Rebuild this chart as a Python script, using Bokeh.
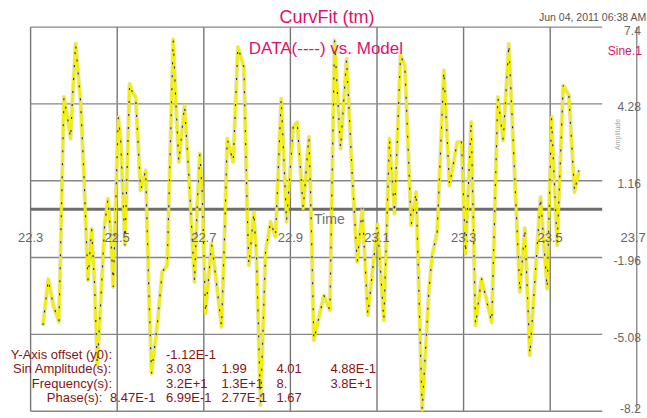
import math
from bokeh.plotting import figure
from bokeh.models import Range1d
from bokeh.core.properties import value
from bokeh.embed import file_html
from bokeh.resources import INLINE

# ---------------- data ----------------
title_text = "CurvFit (tm)"
subtitle_text = "DATA(----) vs. Model"
series_name = "Sine.1"
timestamp = "Jun 04, 2011 06:38 AM"
x_axis_title = "Time"
y_axis_title = "Amplitude"

x_ticks = [22.3, 22.5, 22.7, 22.9, 23.1, 23.3, 23.5, 23.7]
x_tick_labels = ["22.3", "22.5", "22.7", "22.9", "23.1", "23.3", "23.5", "23.7"]
y_ticks = [7.4, 4.28, 1.16, -1.96, -5.08, -8.2]
y_tick_labels = ["7.4", "4.28", "1.16", "-1.96", "-5.08", "-8.2"]

time = [22.3285, 22.3408, 22.3524, 22.3655, 22.3770, 22.3862, 22.3924, 22.3963,
        22.4040, 22.4155, 22.4232, 22.4324, 22.4409, 22.4478, 22.4540, 22.4632,
        22.4709, 22.4786, 22.4848, 22.4910, 22.5025, 22.5079, 22.5179, 22.5287,
        22.5349, 22.5426, 22.5541, 22.5657, 22.5731, 22.5793, 22.5924, 22.6039,
        22.6155, 22.6293, 22.6362, 22.6424, 22.6555, 22.6655, 22.6786, 22.6848,
        22.6909, 22.6963, 22.7040, 22.7179, 22.7271, 22.7410, 22.7487, 22.7541,
        22.7679, 22.7787, 22.7926, 22.8003, 22.8041, 22.8157, 22.8218, 22.8311,
        22.8426, 22.8541, 22.8657, 22.8787, 22.8849, 22.8911, 22.9065, 22.9157,
        22.9296, 22.9427, 22.9465, 22.9542, 22.9773, 22.9912, 23.0019, 23.0158,
        23.0297, 23.0428, 23.0543, 23.0659, 23.0789, 23.1010, 23.1158, 23.1288,
        23.1404, 23.1543, 23.1643, 23.1789, 23.1904, 23.2043, 23.2197, 23.2274,
        23.2390, 23.2544, 23.2674, 23.2852, 23.2952, 23.3044, 23.3175, 23.3275,
        23.3414, 23.3650, 23.3790, 23.3914, 23.4045, 23.4299, 23.4414, 23.4530,
        23.4776, 23.4930, 23.5030, 23.5161, 23.5300, 23.5431, 23.5562, 23.5662]
amplitude = [-4.71, -2.84, -3.90, -4.57, 4.56, 3.61, 2.87, 4.35,
             6.72, 4.35, 1.38, -2.88, -0.79, -3.08, -6.33, -3.35,
             -0.65, 0.43, -0.92, -3.15, 3.75, 2.87, -1.46, 5.10,
             4.76, 4.56, 0.77, 1.58, -3.35, -6.67, -4.71, -2.54,
             -2.27, 6.90, 4.08, 1.92, 4.22, 1.38, -2.95, 0.16,
             2.26, 0.70, -4.23, -1.39, -2.68, -4.77, -0.65, 2.87,
             1.92, 6.59, 5.77, -0.11, -2.27, -0.11, -2.00, -7.95,
             -1.73, -0.51, -1.12, 4.49, 2.06, -0.51, 3.34, 3.54,
             0.03, 2.94, 0.70, -5.32, -3.49, -4.10, 6.86, 2.46,
             6.11, 1.38, -2.14, 0.05, -4.30, -0.60, -4.50, 2.87,
             -0.18, 6.25, 5.84, -0.65, 0.70, -8.16, -3.35, -1.87,
             -0.92, 5.64, 0.97, 2.73, 2.73, -1.80, 3.54, -4.71,
             -2.81, -4.60, 4.56, 2.80, 6.72, -3.35, -0.76, -5.92,
             0.50, -3.22, 3.75, -1.46, 5.03, 4.63, 0.70, 1.58]

param_labels = ["Y-Axis offset (y0):", "Sin Amplitude(s):", "Frequency(s):", "Phase(s):"]
offset_values = ["-1.12E-1"]
amplitude_values = ["3.03", "1.99", "4.01", "4.88E-1"]
frequency_values = ["3.2E+1", "1.3E+1", "8.", "3.8E+1"]
phase_values = ["8.47E-1", "6.99E-1", "2.77E-1", "1.67"]

# ---------------- layout / style ----------------
FONT = value("Liberation Sans")
PINK = "#e0116b"
DARKRED = "#841418"
GRID = "#858585"
grid_end = 23.62

p = figure(width=647, height=418,
           x_range=Range1d(22.230485, 23.724711), y_range=Range1d(-8.49636, 8.48033),
           x_axis_location=None, y_axis_location=None,
           toolbar_location=None, output_backend="svg",
           min_border=0, min_border_left=0, min_border_right=0,
           min_border_top=0, min_border_bottom=0,
           outline_line_color=None,
           background_fill_color="white", border_fill_color="white")
for g in p.grid:
    g.visible = False

# vertical grid lines
p.segment(x0=x_ticks[:-1], y0=[y_ticks[-1]] * (len(x_ticks) - 1),
          x1=x_ticks[:-1], y1=[y_ticks[0]] * (len(x_ticks) - 1),
          line_color="#777777", line_width=1.4)
# right axis line
p.segment(x0=[x_ticks[-1]], y0=[y_ticks[-1]], x1=[x_ticks[-1]], y1=[y_ticks[0]],
          line_color="#6a6a6a", line_width=1.1)
# horizontal grid lines
p.segment(x0=[x_ticks[0]] * len(y_ticks), y0=y_ticks,
          x1=[grid_end] * len(y_ticks), y1=y_ticks,
          line_color=GRID, line_width=1.4)
# zero (time) axis
p.segment(x0=[x_ticks[0]], y0=[0], x1=[grid_end], y1=[0],
          line_color="#6c6c6c", line_width=3)

# data / model line
p.line(time, amplitude, line_color="#c4c49c", line_width=4.2, line_alpha=0.45, line_join="round")
p.line(time, amplitude, line_color="#f2f000", line_width=2.6, line_join="round")
p.line(time, amplitude, line_color="#1c1ca0", line_width=1.1, line_dash="2 11")

# x tick labels along the zero line
p.text(x=x_ticks[:-1], y=[0] * (len(x_ticks) - 1), text=x_tick_labels[:-1],
       text_font=FONT, text_font_size="13px", text_color="#666666",
       text_align="center", text_baseline="middle", y_offset=28)
p.text(x=[x_ticks[-1]], y=[0], text=[x_tick_labels[-1]],
       text_font=FONT, text_font_size="13px", text_color="#666666",
       text_align="right", text_baseline="middle", x_offset=9, y_offset=28)
p.text(x=[22.99], y=[0], text=[x_axis_title],
       text_font=FONT, text_font_size="14px", text_color="#707070",
       text_align="center", text_baseline="middle", y_offset=10)

# y tick labels at the right
p.text(x=[x_ticks[-1]] * (len(y_ticks) - 1), y=y_ticks[:-1], text=y_tick_labels[:-1],
       text_font=FONT, text_font_size="12px", text_color="#666666",
       text_align="right", text_baseline="middle", x_offset=4, y_offset=3)
p.text(x=[x_ticks[-1]], y=[y_ticks[-1]], text=[y_tick_labels[-1]],
       text_font=FONT, text_font_size="12px", text_color="#666666",
       text_align="right", text_baseline="middle", x_offset=4, y_offset=-3)
p.text(x=[23.6555], y=[3.04], text=[y_axis_title], angle=math.pi / 2,
       text_font=FONT, text_font_size="7px", text_color="#a8a8a8",
       text_align="center", text_baseline="middle")

# titles
p.text(x=[22.9845], y=[7.79], text=[title_text],
       text_font=FONT, text_font_size="18px", text_color=PINK,
       text_align="center", text_baseline="middle")
p.text(x=[22.982], y=[6.55], text=[subtitle_text],
       text_font=FONT, text_font_size="17px", text_color=PINK,
       text_align="center", text_baseline="middle")
p.text(x=[x_ticks[-1]], y=[6.41], text=[series_name],
       text_font=FONT, text_font_size="12px", text_color=PINK,
       text_align="right", text_baseline="middle", x_offset=5)
p.text(x=[x_ticks[-1]], y=[7.80], text=[timestamp],
       text_font=FONT, text_font_size="10.5px", text_color="#555555",
       text_align="right", text_baseline="middle", x_offset=10)

# parameter block
row_y = [-5.88, -6.47, -7.06, -7.65]
label_right = [22.488, 22.488, 22.488, 22.466]
col_x = [22.4834, 22.6127, 22.7409, 22.8679, 22.9926]
p.text(x=label_right, y=row_y, text=param_labels,
       text_font=FONT, text_font_size="13px", text_color=DARKRED,
       text_align="right", text_baseline="middle")
rows = [offset_values, amplitude_values, frequency_values]
for r, vals in enumerate(rows):
    p.text(x=col_x[1:1 + len(vals)], y=[row_y[r]] * len(vals), text=vals,
           text_font=FONT, text_font_size="13px", text_color=DARKRED,
           text_align="left", text_baseline="middle")
p.text(x=col_x[:len(phase_values)], y=[row_y[3]] * len(phase_values), text=phase_values,
       text_font=FONT, text_font_size="13px", text_color=DARKRED,
       text_align="left", text_baseline="middle")

open("out.html", "w").write(file_html(p, INLINE))
